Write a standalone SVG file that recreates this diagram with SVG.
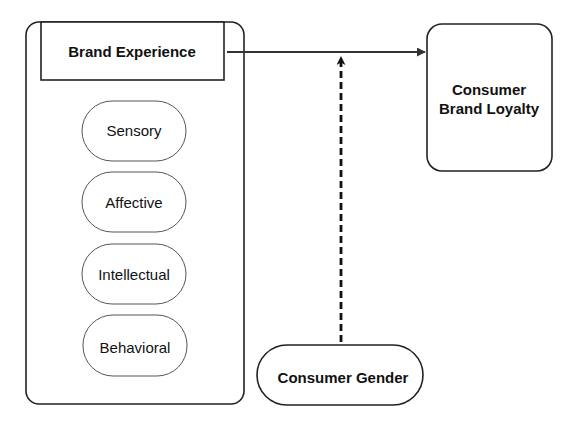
<svg xmlns="http://www.w3.org/2000/svg" width="580" height="441" viewBox="0 0 580 441">
<style>
.box{fill:#fff;stroke:#222;stroke-width:1.6}
.pill{fill:#fff;stroke:#555;stroke-width:1}
.t{font-family:"Liberation Sans",Arial,sans-serif;font-size:15px;fill:#111;text-anchor:middle}
.b{font-weight:bold}
</style>
<defs>
<marker id="ah" viewBox="0 0 10 10" refX="9" refY="5" markerWidth="9" markerHeight="9" markerUnits="userSpaceOnUse" orient="auto">
<path d="M0,0 L10,5 L0,10 z" fill="#333"/>
</marker>
<marker id="ah2" viewBox="0 0 10 10" refX="9" refY="5" markerWidth="9" markerHeight="9" markerUnits="userSpaceOnUse" orient="auto">
<path d="M0,0 L10,5 L0,10 L3,5 z" fill="#111"/>
</marker>
</defs>
<rect width="580" height="441" fill="#fff"/>
<g id="container">
<rect class="box" x="26" y="22" width="218" height="382" rx="13"/>
</g>
<g id="brand-experience">
<rect class="box" x="41" y="22" width="183" height="58"/>
<text class="t b" x="132" y="57">Brand Experience</text>
</g>
<g id="sensory">
<rect class="pill" x="82" y="101" width="104" height="60" rx="30"/>
<text class="t" x="134" y="136">Sensory</text>
</g>
<g id="affective">
<rect class="pill" x="82" y="172" width="104" height="60" rx="30"/>
<text class="t" x="134" y="208">Affective</text>
</g>
<g id="intellectual">
<rect class="pill" x="82" y="244" width="104" height="60" rx="30"/>
<text class="t" x="134" y="280">Intellectual</text>
</g>
<g id="behavioral">
<rect class="pill" x="83" y="315" width="104" height="61" rx="30"/>
<text class="t" x="135" y="353">Behavioral</text>
</g>
<g id="loyalty">
<rect class="box" x="427" y="24" width="125" height="147" rx="15"/>
<text class="t b" x="489" y="95">Consumer</text>
<text class="t b" x="489" y="114">Brand Loyalty</text>
</g>
<g id="gender">
<rect class="box" x="257" y="345" width="166" height="60" rx="30"/>
<text class="t b" x="343" y="383">Consumer Gender</text>
</g>
<g id="connectors">
<line x1="227" y1="52" x2="425" y2="52" stroke="#333" stroke-width="2.2" marker-end="url(#ah)"/>
<line x1="341" y1="342" x2="341" y2="57" stroke="#111" stroke-width="2.8" stroke-dasharray="7,4" marker-end="url(#ah2)"/>
</g>
</svg>
